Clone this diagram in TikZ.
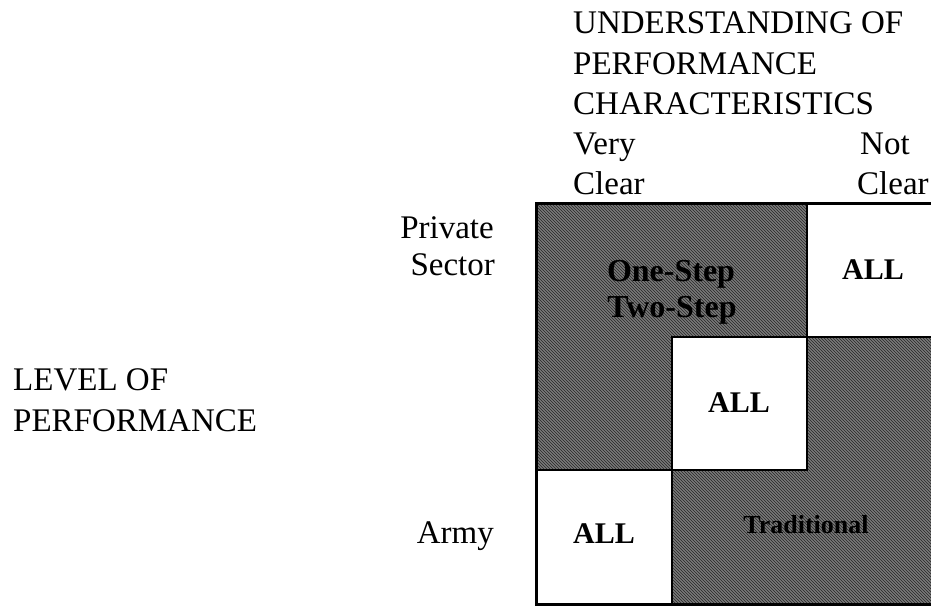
\documentclass[tikz,border=0pt]{standalone}
\usepackage{fontspec}
\setmainfont{Liberation Serif}
\usepackage{tikz}
\usetikzlibrary{patterns}

\tikzset{
  lbl/.style={inner sep=0pt, font=\fontsize{33}{40}\selectfont},
  celltxt/.style={inner sep=0pt, font=\bfseries\fontsize{30}{36}\selectfont},
  hatch/.style={fill=black!52, postaction={pattern=north west lines, pattern color=black!85}},
  blank/.style={fill=white, draw=black, line width=2pt},
}

\begin{document}
\begin{tikzpicture}[x=1pt,y=-1pt]
    \useasboundingbox (0,0) rectangle (931,606);

    % shaded L-shapes
    \path[hatch] (536,203) -- (807,203) -- (807,337) -- (672,337) -- (672,470) -- (536,470) -- cycle;
    \path[hatch] (807,337) -- (942,337) -- (942,604) -- (672,604) -- (672,470) -- (807,470) -- cycle;

    % white cells
    \draw[blank] (807,203) rectangle (942,337);
    \draw[blank] (672,337) rectangle (807,470);
    \draw[blank] (536,470) rectangle (672,604);
    \draw[line width=3pt] (536,203) rectangle (942,604);

    \node[celltxt] (allTR) at (873,270) {ALL};
    \node[celltxt] (allMid) at (739,403) {ALL};
    \node[celltxt] (allBL) at (604,534) {ALL};
    \node[celltxt, anchor=base, font=\bfseries\fontsize{32}{36}\selectfont] (one) at (671,281) {One-Step};
    \node[celltxt, anchor=base, font=\bfseries\fontsize{32}{36}\selectfont] (two) at (672,317) {Two-Step};
    \node[celltxt, anchor=base, font=\bfseries\fontsize{26}{30}\selectfont] (trad) at (806,533) {Traditional};

    % axis labels
    \node[lbl, anchor=base west] (und) at (573,33) {UNDERSTANDING OF};
    \node[lbl, anchor=base west] (perf) at (573,74) {PERFORMANCE};
    \node[lbl, anchor=base west] (char) at (573,114) {CHARACTERISTICS};
    \node[lbl, anchor=base west] (very) at (573,154) {Very};
    \node[lbl, anchor=base west] (clearL) at (573,194) {Clear};
    \node[lbl, anchor=base west] (not) at (860,154) {Not};
    \node[lbl, anchor=base west] (clearR) at (857,194) {Clear};

    \node[lbl, anchor=base east] (priv) at (494,238) {Private};
    \node[lbl, anchor=base east] (sect) at (495,275) {Sector};
    \node[lbl, anchor=base east] (army) at (494,543) {Army};

    \node[lbl, anchor=base west] (level) at (13,390) {LEVEL OF};
    \node[lbl, anchor=base west] (perf2) at (13,431) {PERFORMANCE};
\end{tikzpicture}
\end{document}
